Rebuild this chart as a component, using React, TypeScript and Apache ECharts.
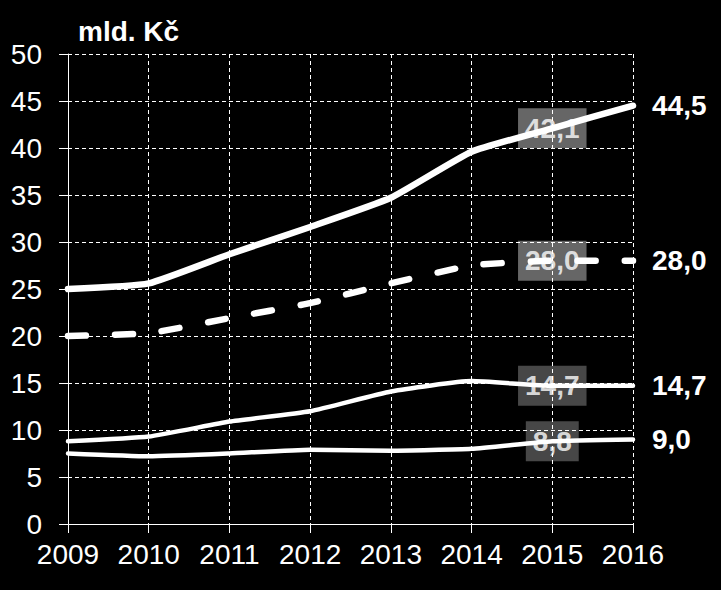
import React, { useEffect, useRef } from "react";
import * as echarts from "echarts";

const years = ["2009", "2010", "2011", "2012", "2013", "2014", "2015", "2016"];
const seriesTop = [25.0, 25.6, 28.7, 31.6, 34.7, 39.6, 42.1, 44.5];
const seriesDashed = [20.0, 20.3, 21.9, 23.5, 25.6, 27.5, 28.0, 28.0];
const seriesMid = [8.8, 9.3, 10.9, 12.0, 14.1, 15.2, 14.7, 14.7];
const seriesLow = [7.5, 7.2, 7.5, 7.9, 7.8, 8.0, 8.8, 9.0];
const unitLabel = "mld. Kč";
const boxIndex = 6; // 2015

const fmt = (v: number) => v.toFixed(1).replace(".", ",");

export default function App() {
  const ref = useRef<HTMLDivElement>(null);
  useEffect(() => {
    if (!ref.current) return;
    const chart = echarts.init(ref.current, null, { renderer: "svg" });
    const font = "'Liberation Sans', Arial, sans-serif";
    const lastIdx = years.length - 1;

    const lineSeries = (arr: number[], width: number, dashed: boolean) => ({
      type: "line",
      data: arr,
      symbol: "none",
      smooth: 0.15,
      z: 3,
      clip: false,
      lineStyle: {
        color: "#ffffff",
        width,
        type: dashed ? [18, 29] : "solid",
        cap: "round",
        join: "round",
      },
      endLabel: {
        show: true,
        distance: 19,
        formatter: () => fmt(arr[lastIdx]),
        color: "#ffffff",
        fontSize: 28,
        fontWeight: "bold",
        fontFamily: font,
      },
    });

    const boxSeries = (arr: number[], color: string) => ({
      type: "scatter",
      z: -1,
      symbol: "rect",
      symbolSize: 1,
      itemStyle: { color: "rgba(0,0,0,0)" },
      data: [[boxIndex, arr[boxIndex]]],
      label: {
        show: true,
        position: "inside",
        formatter: () => fmt(arr[boxIndex]),
        color: "#ffffff",
        fontSize: 28,
        fontWeight: "bold",
        fontFamily: font,
        backgroundColor: color,
        padding: [6, 7, 6, 7],
        lineHeight: 28,
      },
    });

    chart.setOption({
      animation: false,
      backgroundColor: "#000000",
      textStyle: { fontFamily: font },
      grid: { left: 68, right: 88, top: 54, bottom: 66, containLabel: false },
      graphic: [
        {
          type: "text",
          left: 78,
          top: 17,
          style: {
            text: unitLabel,
            fill: "#ffffff",
            font: `bold 28px ${font}`,
          },
        },
      ],
      xAxis: {
        type: "category",
        data: years,
        boundaryGap: false,
        axisLine: { show: true, lineStyle: { color: "#ffffff", width: 1 } },
        axisTick: { show: true, length: 9, interval: 0, lineStyle: { color: "#ffffff" } },
        axisLabel: { color: "#ffffff", fontSize: 28, margin: 16, interval: 0, fontFamily: font },
        splitLine: {
          show: true,
          interval: 0,
          lineStyle: { color: "#ffffff", width: 1, type: [4, 3] },
        },
      },
      yAxis: {
        type: "value",
        min: 0,
        max: 50,
        interval: 5,
        axisLine: { show: true, lineStyle: { color: "#ffffff", width: 1 } },
        axisTick: { show: true, length: 9, lineStyle: { color: "#ffffff" } },
        axisLabel: { color: "#ffffff", fontSize: 28, margin: 26, fontFamily: font },
        splitLine: {
          show: true,
          lineStyle: { color: "#ffffff", width: 1, type: [4, 3] },
        },
      },
      series: [
        boxSeries(seriesTop, "#808080"),
        boxSeries(seriesDashed, "#808080"),
        boxSeries(seriesMid, "#595959"),
        boxSeries(seriesLow, "#595959"),
        lineSeries(seriesTop, 6.5, false),
        lineSeries(seriesDashed, 6.5, true),
        lineSeries(seriesMid, 4.5, false),
        lineSeries(seriesLow, 4.5, false),
      ],
    });
    return () => chart.dispose();
  }, []);
  return (
    <div
      ref={ref}
      style={{ position: "absolute", left: 0, top: 0, width: 721, height: 590, background: "#000" }}
    />
  );
}
